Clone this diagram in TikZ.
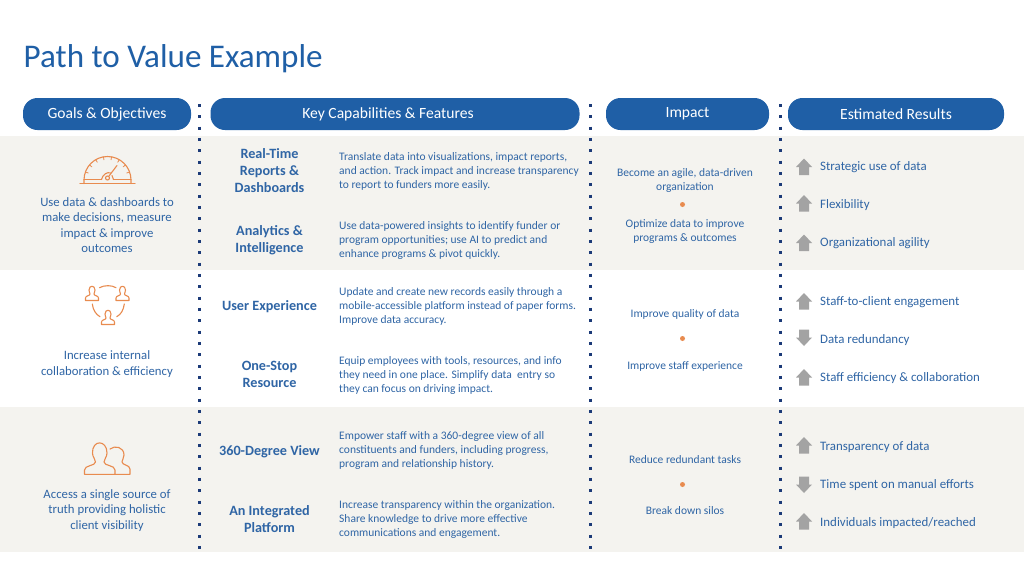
\documentclass[tikz,border=0pt]{standalone}
\usepackage{fontspec}
\setmainfont{Carlito}
\definecolor{blu}{HTML}{1F5FA6}
\definecolor{txt}{HTML}{2F65A5}
\definecolor{navy}{HTML}{1B3A78}
\definecolor{band}{HTML}{F4F3EF}
\definecolor{org}{HTML}{E88B4F}
\definecolor{arr}{HTML}{A3A3A3}
\tikzset{
 pill/.style={fill=blu,rounded corners=14.5pt,minimum height=32pt,inner sep=0pt,text=white,font=\fontsize{15.6}{17}\selectfont},
 goal/.style={text=txt,align=center,font=\fontsize{12.75}{15.4}\selectfont,inner sep=0pt,yshift=-1pt},
 feat/.style={text=txt,align=center,font=\bfseries\fontsize{14.2}{17}\selectfont,inner sep=0pt,yshift=-1pt},
 desc/.style={text=txt,align=left,anchor=west,font=\fontsize{11.5}{14}\selectfont,inner sep=0pt,yshift=-1pt},
 imp/.style={text=txt,align=center,font=\fontsize{11.5}{14}\selectfont,inner sep=0pt,yshift=-1pt},
 res/.style={text=txt,anchor=west,font=\fontsize{12.9}{14}\selectfont,inner sep=0pt,yshift=-1pt},
 bullet/.style={circle,fill=org,minimum size=5pt,inner sep=0pt},
 dots/.style={navy,line width=3pt,dash pattern=on 3pt off 8.33pt},
 ico/.style={org,line width=1.1pt,line cap=round,line join=round},
 up/.pic={\fill[arr] (0,-8.5)--(8,0)--(5,0)--(5,8)--(-5,8)--(-5,0)--(-8,0)--cycle;},
 down/.pic={\fill[arr] (0,8.5)--(8,0)--(5,0)--(5,-8)--(-5,-8)--(-5,0)--(-8,0)--cycle;},
 person/.pic={
  \draw[ico] (-3,-1) .. controls (-3,-6) and (3,-6) .. (3,-1) .. controls (3,1) and (2,2) .. (2,3) .. controls (2,5) and (6.5,4.5) .. (6.5,7) -- (6.5,9.5) -- (-6.5,9.5) -- (-6.5,7) .. controls (-6.5,4.5) and (-2,5) .. (-2,3) .. controls (-2,2) and (-3,1) .. (-3,-1);
 },
}
\begin{document}
\begin{tikzpicture}[x=1pt,y=-1pt]
\useasboundingbox (0,0) rectangle (1024,576);
\fill[white] (0,0) rectangle (1024,576);
\fill[band] (0,136) rectangle (1024,270);
\fill[band] (0,407) rectangle (1024,552);
\node[anchor=west,inner sep=0pt,text=blu,font=\fontsize{33.1}{36}\selectfont] (title) at (23.5,58.5) {Path to Value Example};
% header pills
\node[pill,minimum width=168pt] (h1) at (107,114) {Goals \& Objectives};
\node[pill,minimum width=369pt] (h2) at (395,114) {Key Capabilities \& Features\hspace*{14pt}};
\node[pill,minimum width=163pt] (h3) at (687.5,114) {Impact};
\node[pill,minimum width=216pt] (h4) at (896,114) {Estimated Results};
% dotted separators
\coordinate (d1a) at (199,104); \coordinate (d1b) at (199,553);
\coordinate (d2a) at (590.5,104); \coordinate (d2b) at (590.5,553);
\coordinate (d3a) at (780,104); \coordinate (d3b) at (780,553);
\draw[dots] (d1a)--(d1b);
\draw[dots] (d2a)--(d2b);
\draw[dots] (d3a)--(d3b);
% goals
\node[goal] (g1) at (107,224) {Use data \& dashboards to\\make decisions, measure\\impact \& improve\\outcomes};
\node[goal] (g2) at (107,363) {Increase internal\\collaboration \& efficiency};
\node[goal] (g3) at (107,509.5) {Access a single source of\\truth providing holistic\\client visibility};
% gauge icon
\begin{scope}[shift={(107.5,183.5)}]
 \draw[ico] (-27.5,0)--(27.5,0);
 \draw[ico] (-23.5,0) -- (-23.5,-3.5) arc[start angle=180,end angle=360,radius=23.5] -- (23.5,0);
 \draw[ico] (-23.5,-4)--(-6,-4) (6,-4)--(23.5,-4);
 \draw[ico] (-6,-4) .. controls (-5,-9) and (0,-12) .. (3,-10.5);
 \draw[ico] (6,-4) -- (4.5,-8);
 \draw[ico] (0,-5.5) circle (2);
 \draw[ico] (1.5,-7.5)--(9.5,-18);
 \foreach \a in {20,40,...,160}{\draw[ico,line width=.8pt] ({23.5*cos(\a)},{-3.5-23.5*sin(\a)})--({20.5*cos(\a)},{-3.5-20.5*sin(\a)});}
\end{scope}
% collaboration icon
\pic at (92,291) {person};
\pic at (122.5,291) {person};
\pic at (108,315) {person};
\draw[ico] (99.5,287.7) .. controls (104,285) and (112,285) .. (116,287.7);
\draw[ico] (92.3,304) .. controls (93,310) and (96,314.5) .. (100,316.7);
\draw[ico] (124.3,304) .. controls (123.5,310) and (121,314.5) .. (116.7,316.7);
% two people icon
\draw[ico] (92.5,453) .. controls (92,439.5) and (107,439.5) .. (107,453) .. controls (107,457) and (104,459) .. (104,462) .. controls (104,466) and (115,465) .. (115,470) -- (115,474.3) -- (84.5,474.3) -- (84.5,470) .. controls (84.5,465) and (95.5,466) .. (95.5,462) .. controls (95.5,459) and (92.5,457) .. (92.5,453);
\draw[ico] (110,449) .. controls (115,445) and (124,447) .. (124,455) .. controls (124,458) and (122,460) .. (122,462) .. controls (122,465) and (130,465) .. (130,469) -- (130,474.3) -- (115,474.3);
% features
\node[feat] (f1) at (269.5,169.5) {Real-Time\\Reports \&\\Dashboards};
\node[feat] (f2) at (269.5,239) {Analytics \&\\Intelligence};
\node[feat] (f3) at (269.5,306) {User Experience};
\node[feat] (f4) at (269.5,373) {One-Stop\\Resource};
\node[feat] (f5) at (269.5,450.5) {360-Degree View};
\node[feat] (f6) at (269.5,518.5) {An Integrated\\Platform};
% descriptions
\node[desc] (t1) at (339,170.5) {Translate data into visualizations, impact reports,\\and action. Track impact and increase transparency\\to report to funders more easily.};
\node[desc] (t2) at (339,239) {Use data-powered insights to identify funder or\\program opportunities; use AI to predict and\\enhance programs \& pivot quickly.};
\node[desc] (t3) at (339,305.5) {Update and create new records easily through a\\mobile-accessible platform instead of paper forms.\\Improve data accuracy.};
\node[desc] (t4) at (339,374) {Equip employees with tools, resources, and info\\they need in one place. Simplify data\ \ entry so\\they can focus on driving impact.};
\node[desc] (t5) at (339,449) {Empower staff with a 360-degree view of all\\constituents and funders, including progress,\\program and relationship history.};
\node[desc] (t6) at (339,518) {Increase transparency within the organization.\\Share knowledge to drive more effective\\communications and engagement.};
% impact
\node[imp] (i1) at (685,179) {Become an agile, data-driven\\organization};
\node[bullet] (b1) at (682.5,204.5) {};
\node[imp] (i2) at (685,230.5) {Optimize data to improve\\programs \& outcomes};
\node[imp] (i3) at (685,313.5) {Improve quality of data};
\node[bullet] (b2) at (682.5,338.5) {};
\node[imp] (i4) at (685,365) {Improve staff experience};
\node[imp] (i5) at (685,459) {Reduce redundant tasks};
\node[bullet] (b3) at (682.5,484.5) {};
\node[imp] (i6) at (685,510) {Break down silos};
% results
\pic at (804,167) {up};
\node[res] (r1) at (820,166) {Strategic use of data};
\pic at (804,203.5) {up};
\node[res] (r2) at (820,204) {Flexibility};
\pic at (804,243) {up};
\node[res] (r3) at (820,242) {Organizational agility};
\pic at (804,301.5) {up};
\node[res] (r4) at (820,301) {Staff-to-client engagement};
\pic at (804,337.5) {down};
\node[res] (r5) at (820,339) {Data redundancy};
\pic at (804,377.5) {up};
\node[res] (r6) at (820,377) {Staff efficiency \& collaboration};
\pic at (804,445.5) {up};
\node[res] (r7) at (820,446) {Transparency of data};
\pic at (804,484.5) {down};
\node[res] (r8) at (820,484) {Time spent on manual efforts};
\pic at (804,521.5) {up};
\node[res] (r9) at (820,522) {Individuals impacted/reached};
\end{tikzpicture}
\end{document}
